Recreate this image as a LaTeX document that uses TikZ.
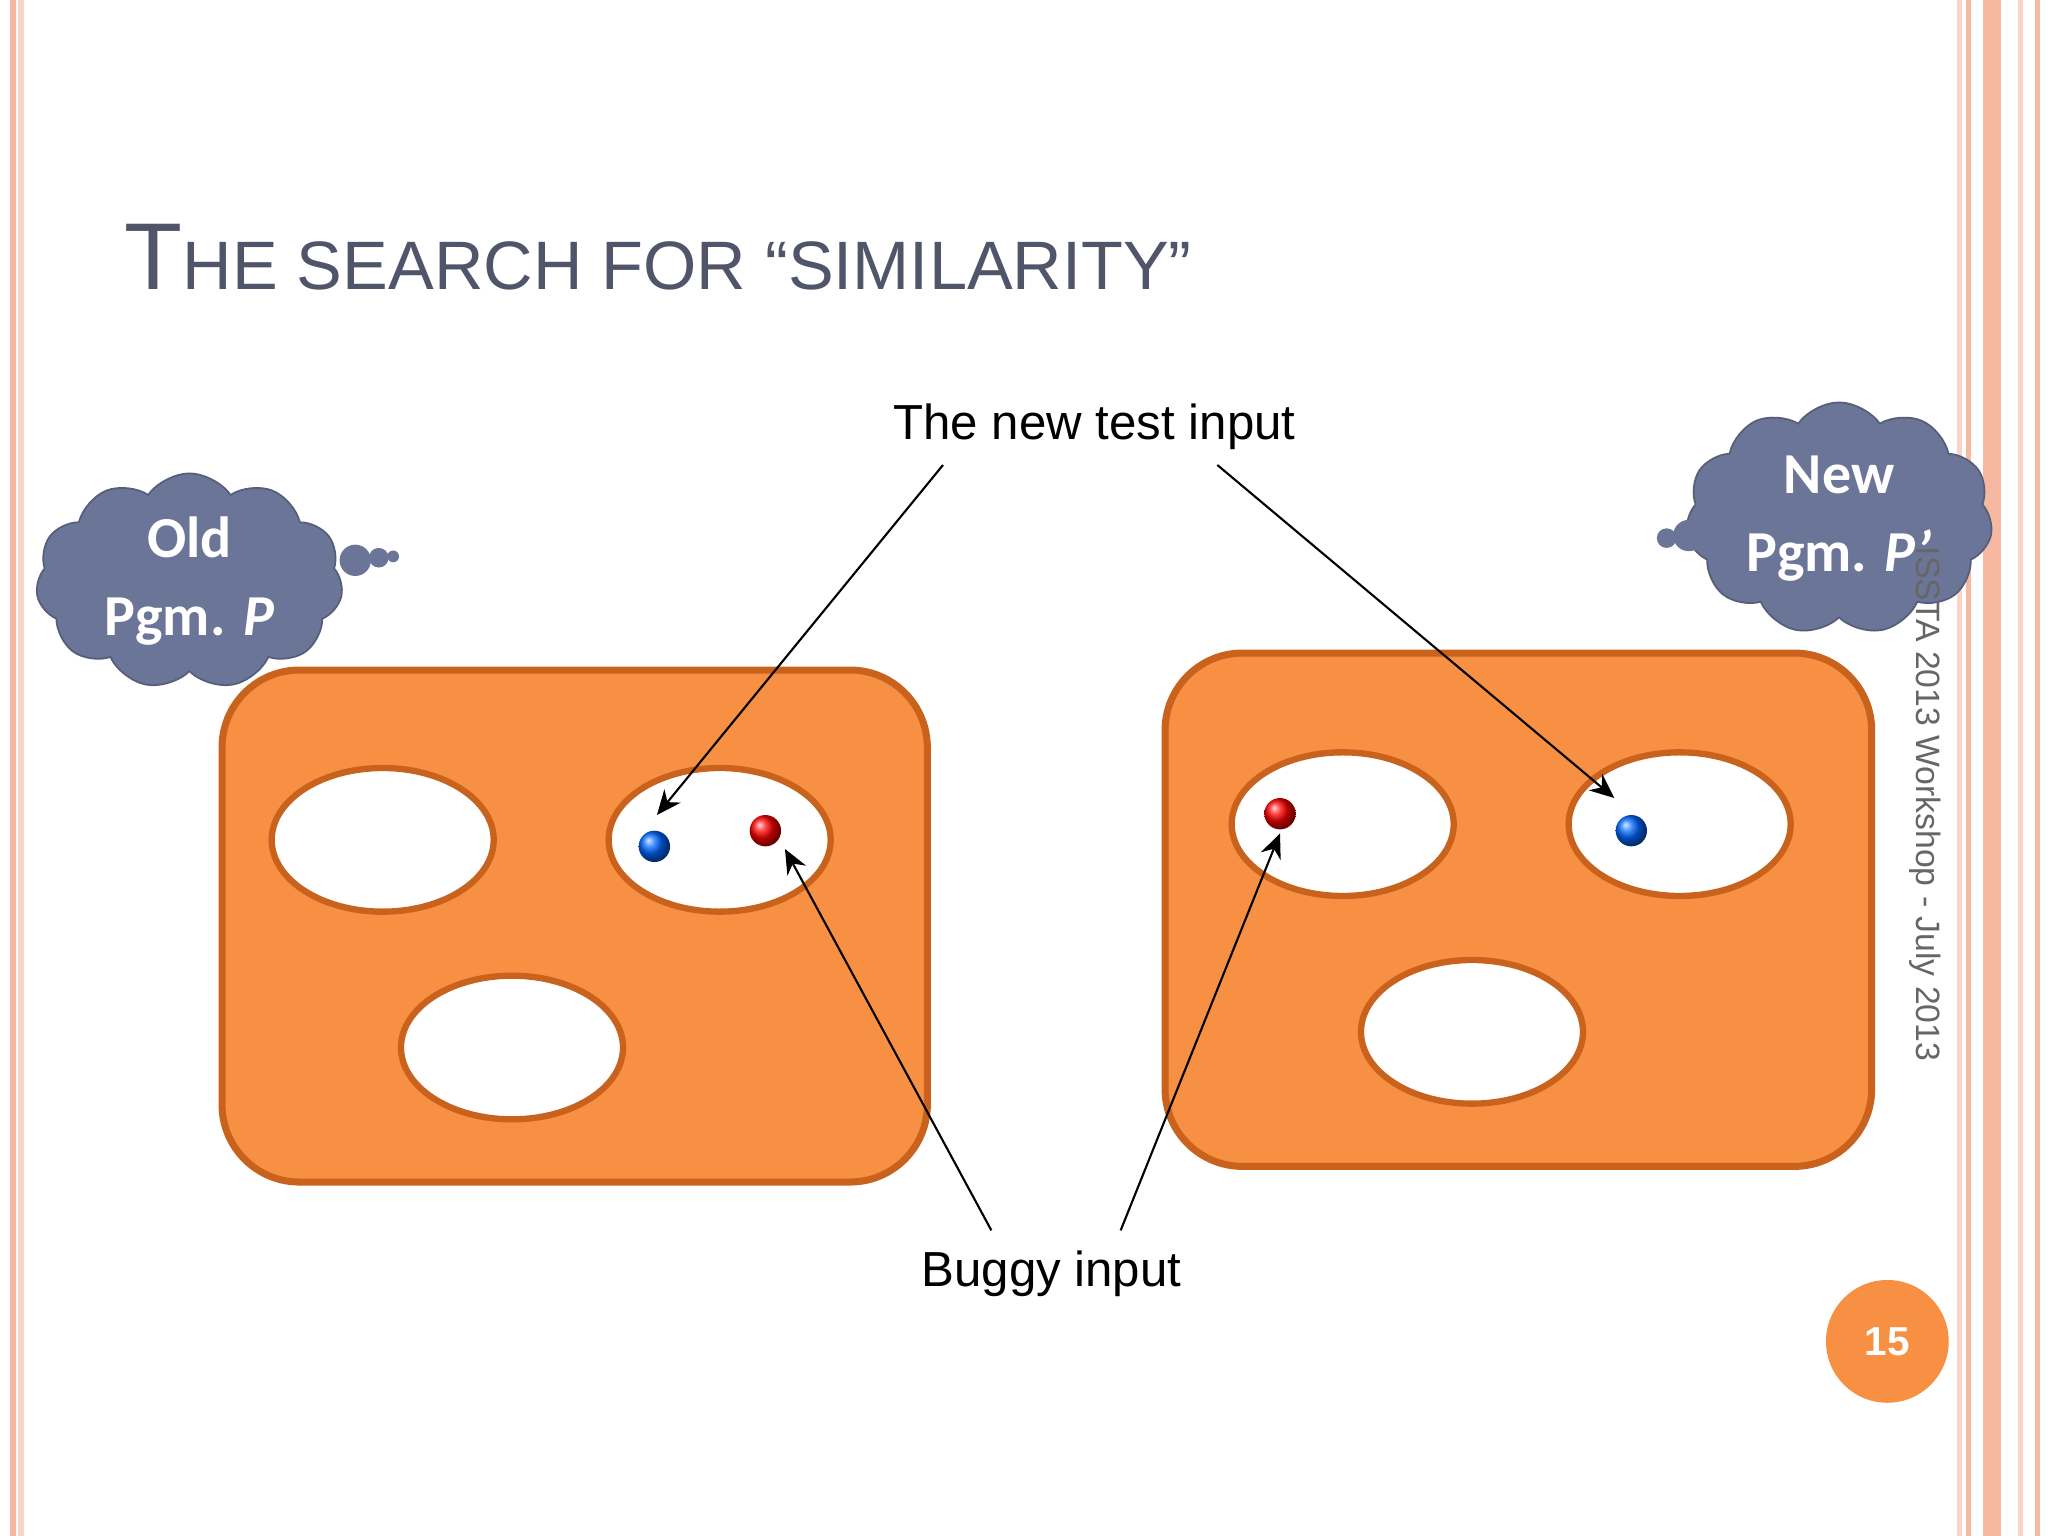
\documentclass[tikz,border=0pt]{standalone}
\usepackage{fontspec}
\setmainfont{Liberation Sans}
\newfontfamily\calib{Carlito}
\usetikzlibrary{shapes.symbols,shapes.geometric,arrows.meta}
\definecolor{org}{HTML}{F79043}
\definecolor{orgd}{HTML}{C8621C}
\definecolor{ttl}{HTML}{50556A}
\definecolor{cld}{HTML}{6B7598}
\definecolor{brd}{HTML}{F6B8A0}
\begin{document}
\begin{tikzpicture}[x=0.013061cm,y=-0.013061cm,
  box/.style={fill=org,draw=orgd,line width=2pt,rounded corners=22pt},
  hole/.style={fill=white,draw=orgd,line width=1.8pt},
  arr/.style={-{Stealth[length=7pt,width=6pt]},line width=0.6pt},
  lbl/.style={font=\fontsize{14}{17}\selectfont},
  cloudn/.style={cloud,cloud puffs=11,cloud puff arc=110,aspect=1.3,fill=cld,draw=cld!80!black,line width=0.5pt,text=white,align=center,font=\calib\bfseries\fontsize{16.5}{20}\selectfont,inner sep=0pt},
  bub/.style={circle,fill=cld,inner sep=0pt}]
\useasboundingbox (0,0) rectangle (1568,1176);
\fill[white] (0,0) rectangle (1568,1176);
% borders
\fill[brd] (8,0) rectangle (12,1176);
\fill[brd!60] (14,0) rectangle (18,1176);
\fill[brd!60] (1498,0) rectangle (1502,1176);
\fill[brd] (1505,0) rectangle (1509,1176);
\fill[brd] (1518,0) rectangle (1532,1176);
\fill[brd!60] (1545,0) rectangle (1549,1176);
\fill[brd] (1558,0) rectangle (1562,1176);
% title
\node[anchor=base west,text=ttl,inner sep=0pt] (title) at (95,222)
 {\fontsize{27}{32}\selectfont T\fontsize{19.5}{24}\selectfont HE SEARCH FOR “SIMILARITY”};
% boxes
\draw[box] (170,513) rectangle (710,905);
\draw[box] (892,500) rectangle (1433,893);
\draw[hole] (293,643) ellipse (85 and 55);
\node[hole,ellipse,minimum width=170*0.013061cm,minimum height=110*0.013061cm] (e2) at (551,643) {};
\draw[hole] (392,802) ellipse (85 and 55);
\node[hole,ellipse,minimum width=170*0.013061cm,minimum height=110*0.013061cm] (e4) at (1028,631) {};
\node[hole,ellipse,minimum width=170*0.013061cm,minimum height=110*0.013061cm] (e5) at (1286,631) {};
\draw[hole] (1127,790) ellipse (85 and 55);
% dots
\node[circle,inner sep=0pt,minimum size=24*0.013061cm,ball color=blue!60!cyan] (b1) at (501,648) {};
\node[circle,inner sep=0pt,minimum size=24*0.013061cm,ball color=red] (r1) at (586,636) {};
\node[circle,inner sep=0pt,minimum size=24*0.013061cm,ball color=red] (r2) at (980,623) {};
\node[circle,inner sep=0pt,minimum size=24*0.013061cm,ball color=blue!60!cyan] (b2) at (1249,636) {};
% labels
\node[lbl] (tn) at (838,327) {The new test input};
\node[lbl] (bg) at (805,975) {Buggy input};
\coordinate (t1) at (722,356); \coordinate (t2) at (932,356);
\coordinate (g1) at (759,942); \coordinate (g2) at (858,942);
\draw[arr] (t1) -- (503,624);
\draw[arr] (t2) -- (1236,611);
\draw[arr] (g1) -- (601,650);
\draw[arr] (g2) -- (980,638);
% clouds
\node[cloudn,minimum width=235*0.013061cm,minimum height=165*0.013061cm] (c1) at (145,445) {Old\\[2pt]Pgm. \textit{P}};
\node[bub,minimum size=24*0.013061cm] at (272,429) {};
\node[bub,minimum size=15*0.013061cm] at (290,427) {};
\node[bub,minimum size=9*0.013061cm] at (301,426) {};
\node[cloudn,minimum width=235*0.013061cm,minimum height=165*0.013061cm] (c2) at (1408,397) {New\\[2pt]Pgm. \textit{P’}};
\node[bub,minimum size=24*0.013061cm] at (1293,410) {};
\node[bub,minimum size=15*0.013061cm] at (1276,412) {};
% side text
\node[rotate=-90,anchor=west,text=gray!80!black,font=\fontsize{9.6}{12}\selectfont,inner sep=0pt] (side) at (1474,418) {ISSTA 2013 Workshop - July 2013};
% page number
\node[circle,fill=org,minimum size=94*0.013061cm,text=white,font=\bfseries\fontsize{11.5}{14}\selectfont] (pg) at (1445,1027) {15};
\end{tikzpicture}
\end{document}
